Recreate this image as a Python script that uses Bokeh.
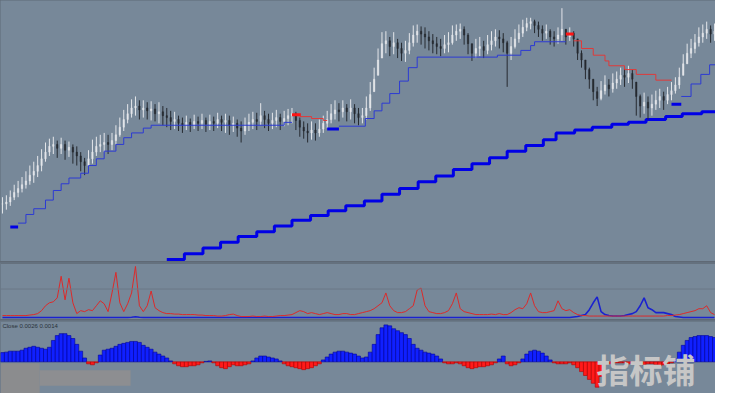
from bokeh.plotting import figure
from bokeh.layouts import column
from bokeh.models import Range1d, Span, Label, BoxAnnotation, ColumnDataSource
from bokeh.embed import file_html
from bokeh.resources import INLINE

BG = "#778899"
SEP = "#5f6a76"
W = 715

# ---------------- price bars (close / high / low) ----------------
close = [
    1.2060, 1.2062, 1.2067, 1.2072, 1.2076, 1.2080, 1.2084, 1.2090, 1.2094, 1.2100,
    1.2107, 1.2114, 1.2120, 1.2122, 1.2118, 1.2122, 1.2116, 1.2119, 1.2114, 1.2110,
    1.2104, 1.2100, 1.2107, 1.2114, 1.2120, 1.2122, 1.2124, 1.2122, 1.2126, 1.2132,
    1.2140, 1.2148, 1.2154, 1.2160, 1.2162, 1.2158, 1.2160, 1.2157, 1.2159, 1.2154,
    1.2156, 1.2152, 1.2150, 1.2146, 1.2148, 1.2144, 1.2142, 1.2145, 1.2142, 1.2146,
    1.2144, 1.2147, 1.2143, 1.2146, 1.2144, 1.2148, 1.2145, 1.2147, 1.2142, 1.2144,
    1.2139, 1.2136, 1.2142, 1.2145, 1.2148, 1.2146, 1.2152, 1.2148, 1.2144, 1.2147,
    1.2150, 1.2146, 1.2149, 1.2152, 1.2154, 1.2147, 1.2140, 1.2136, 1.2134, 1.2137,
    1.2134, 1.2138, 1.2144, 1.2148, 1.2154, 1.2158, 1.2156, 1.2160, 1.2156, 1.2160,
    1.2154, 1.2150, 1.2152, 1.2160, 1.2174, 1.2190, 1.2210, 1.2227, 1.2230, 1.2224,
    1.2228, 1.2222, 1.2217, 1.2220, 1.2228, 1.2236, 1.2240, 1.2237, 1.2234, 1.2230,
    1.2227, 1.2224, 1.2222, 1.2226, 1.2228, 1.2236, 1.2240, 1.2242, 1.2236, 1.2227,
    1.2217, 1.2222, 1.2224, 1.2220, 1.2226, 1.2230, 1.2234, 1.2232, 1.2228, 1.2217,
    1.2224, 1.2232, 1.2238, 1.2244, 1.2248, 1.2250, 1.2246, 1.2242, 1.2238, 1.2240,
    1.2234, 1.2232, 1.2236, 1.2242, 1.2234, 1.2238, 1.2232, 1.2217, 1.2210, 1.2200,
    1.2190, 1.2177, 1.2170, 1.2178, 1.2184, 1.2180, 1.2186, 1.2190, 1.2194, 1.2192,
    1.2196, 1.2190, 1.2172, 1.2162, 1.2166, 1.2160, 1.2164, 1.2168, 1.2172, 1.2168,
    1.2174, 1.2178, 1.2184, 1.2192, 1.2206, 1.2217, 1.2222, 1.2228, 1.2234, 1.2238,
    1.2242, 1.2237, 1.2240,
]
high = [
    1.2067, 1.2069, 1.2074, 1.2080, 1.2084, 1.2088, 1.2094, 1.2100, 1.2104, 1.2110,
    1.2117, 1.2124, 1.2128, 1.2130, 1.2126, 1.2129, 1.2126, 1.2125, 1.2122, 1.2120,
    1.2114, 1.2108, 1.2116, 1.2127, 1.2130, 1.2132, 1.2134, 1.2132, 1.2134, 1.2142,
    1.2150, 1.2158, 1.2164, 1.2169, 1.2172, 1.2168, 1.2168, 1.2166, 1.2167, 1.2164,
    1.2166, 1.2162, 1.2160, 1.2157, 1.2156, 1.2152, 1.2150, 1.2152, 1.2149, 1.2153,
    1.2151, 1.2154, 1.2150, 1.2153, 1.2151, 1.2155, 1.2152, 1.2154, 1.2152, 1.2151,
    1.2148, 1.2146, 1.2150, 1.2154, 1.2156, 1.2155, 1.2165, 1.2157, 1.2154, 1.2155,
    1.2158, 1.2154, 1.2157, 1.2159, 1.2160, 1.2156, 1.2150, 1.2146, 1.2144, 1.2146,
    1.2144, 1.2148, 1.2152, 1.2157, 1.2164, 1.2168, 1.2165, 1.2168, 1.2164, 1.2169,
    1.2164, 1.2160, 1.2160, 1.2172, 1.2187, 1.2202, 1.2222, 1.2239, 1.2240, 1.2234,
    1.2239, 1.2232, 1.2228, 1.2230, 1.2238, 1.2246, 1.2247, 1.2245, 1.2244, 1.2240,
    1.2237, 1.2234, 1.2232, 1.2236, 1.2239, 1.2246, 1.2247, 1.2248, 1.2245, 1.2238,
    1.2227, 1.2232, 1.2234, 1.2230, 1.2236, 1.2240, 1.2242, 1.2241, 1.2238, 1.2230,
    1.2234, 1.2242, 1.2247, 1.2252, 1.2254, 1.2254, 1.2252, 1.2250, 1.2246, 1.2247,
    1.2242, 1.2240, 1.2244, 1.2264, 1.2242, 1.2244, 1.2240, 1.2232, 1.2220, 1.2210,
    1.2202, 1.2190, 1.2182, 1.2188, 1.2194, 1.2190, 1.2196, 1.2198, 1.2202, 1.2202,
    1.2204, 1.2200, 1.2187, 1.2174, 1.2176, 1.2172, 1.2174, 1.2178, 1.2180, 1.2177,
    1.2182, 1.2187, 1.2192, 1.2202, 1.2216, 1.2227, 1.2232, 1.2237, 1.2244, 1.2247,
    1.2250, 1.2246, 1.2248,
]
low = [
    1.2050, 1.2054, 1.2058, 1.2064, 1.2067, 1.2072, 1.2076, 1.2080, 1.2082, 1.2088,
    1.2094, 1.2104, 1.2110, 1.2112, 1.2108, 1.2112, 1.2106, 1.2109, 1.2102, 1.2100,
    1.2094, 1.2090, 1.2096, 1.2102, 1.2110, 1.2114, 1.2114, 1.2112, 1.2116, 1.2122,
    1.2130, 1.2136, 1.2144, 1.2150, 1.2152, 1.2148, 1.2150, 1.2148, 1.2147, 1.2146,
    1.2144, 1.2142, 1.2140, 1.2137, 1.2138, 1.2136, 1.2134, 1.2137, 1.2135, 1.2138,
    1.2136, 1.2138, 1.2135, 1.2137, 1.2136, 1.2139, 1.2136, 1.2134, 1.2132, 1.2135,
    1.2130, 1.2124, 1.2132, 1.2136, 1.2138, 1.2137, 1.2142, 1.2139, 1.2136, 1.2138,
    1.2140, 1.2137, 1.2141, 1.2142, 1.2144, 1.2137, 1.2130, 1.2128, 1.2124, 1.2127,
    1.2126, 1.2130, 1.2134, 1.2139, 1.2144, 1.2148, 1.2146, 1.2150, 1.2146, 1.2148,
    1.2144, 1.2142, 1.2144, 1.2148, 1.2157, 1.2177, 1.2194, 1.2212, 1.2217, 1.2214,
    1.2216, 1.2212, 1.2209, 1.2208, 1.2216, 1.2224, 1.2228, 1.2226, 1.2222, 1.2220,
    1.2217, 1.2216, 1.2214, 1.2217, 1.2218, 1.2226, 1.2230, 1.2232, 1.2226, 1.2216,
    1.2209, 1.2212, 1.2214, 1.2212, 1.2216, 1.2220, 1.2224, 1.2222, 1.2218, 1.2182,
    1.2210, 1.2222, 1.2228, 1.2234, 1.2240, 1.2242, 1.2238, 1.2234, 1.2230, 1.2232,
    1.2226, 1.2224, 1.2227, 1.2230, 1.2226, 1.2230, 1.2224, 1.2210, 1.2202, 1.2190,
    1.2180, 1.2168, 1.2162, 1.2168, 1.2174, 1.2172, 1.2176, 1.2180, 1.2184, 1.2182,
    1.2186, 1.2180, 1.2152, 1.2150, 1.2154, 1.2148, 1.2152, 1.2158, 1.2160, 1.2158,
    1.2164, 1.2168, 1.2175, 1.2180, 1.2194, 1.2206, 1.2212, 1.2217, 1.2224, 1.2228,
    1.2232, 1.2228, 1.2230,
]

# ---------------- trailing-stop step lines (bar index, price level) ----------------
sup1_x = [4, 6, 8, 11, 13, 15, 17, 20, 22, 24, 26, 29, 31, 33, 36, 38, 72, 74]
sup1_y = [1.2040, 1.2049, 1.2055, 1.2064, 1.2074, 1.2081, 1.2087, 1.2092, 1.2100, 1.2107,
          1.2115, 1.2122, 1.2129, 1.2134, 1.2139, 1.2142, 1.2145, 1.2145]
res1_x = [76, 79, 82, 83]
res1_y = [1.2151, 1.2149, 1.2147, 1.2147]
sup2_x = [86, 92.75, 95, 97, 99, 101.5, 103.75, 106, 126.5, 132.5, 135, 136, 144]
sup2_y = [1.2141, 1.2149, 1.2157, 1.2165, 1.2175, 1.2188, 1.2202, 1.2213, 1.2215, 1.2220,
          1.2225, 1.2229, 1.2229]
res2_x = [146, 148, 151, 154, 155, 159, 162, 167, 171]
res2_y = [1.2230, 1.2222, 1.2215, 1.2209, 1.2204, 1.2200, 1.2195, 1.2189, 1.2189]
sup3_x = [173.5, 176, 178.5, 180.75, 182.5]
sup3_y = [1.2172, 1.2185, 1.2195, 1.2205, 1.2205]
long_x = [42, 46.5, 51.25, 55.75, 60.25, 65, 69.5, 74, 78.75, 83.25, 87.75, 92.5, 97, 101.5,
          106.25, 110.75, 115.25, 120, 124.5, 129, 133.75, 138.25, 141.5, 146.25, 150.75,
          155.75, 160, 164.5, 169.5, 173.75, 178.75, 182.5]
long_y = [1.2002, 1.2008, 1.2014, 1.2020, 1.2026, 1.2031, 1.2037, 1.2043, 1.2048, 1.2053,
          1.2058, 1.2063, 1.2070, 1.2076, 1.2083, 1.2089, 1.2096, 1.2102, 1.2108, 1.2115,
          1.2121, 1.2127, 1.2134, 1.2137, 1.2140, 1.2143, 1.2145, 1.2148, 1.2151, 1.2154,
          1.2156, 1.2156]
mark_blue_x0 = [2, 83, 171]
mark_blue_x1 = [4, 86, 173.5]
mark_blue_y = [1.2036, 1.2138, 1.2164]
mark_red_x0 = [74, 144]
mark_red_x1 = [76.25, 146]
mark_red_y = [1.2153, 1.2237]

# ---------------- indicator 1 (red / blue lines) ----------------
ind_red = [
    2, 2, 2, 2, 2, 2, 2, 2.5, 3, 4,
    7, 12, 15, 16, 20, 42, 18, 40, 15, 4,
    7, 6, 8, 7, 12, 17, 14, 6, 25, 46,
    15, 6, 14, 25, 52, 12, 6, 12, 27, 10,
    7, 5, 4, 4, 3.5, 3.5, 3, 3, 3, 3,
    2.5, 2.5, 2, 2, 2, 1.5, 1.5, 2, 3, 3.5,
    2, 1, 1, 1, 1.5, 1, 1, 1.5, 1, 1,
    1.5, 2, 2, 2.5, 3, 5, 7, 6, 4, 5,
    4, 3, 4, 5, 4, 3, 3, 4, 4, 3,
    3, 4, 5, 6, 7, 9, 12, 15, 25, 12,
    7, 5, 5, 6, 9, 12, 28, 30, 12, 6,
    5, 4, 4, 5, 7, 14, 25, 9, 6, 5,
    4, 3, 3, 3, 3, 3.5, 3, 4, 3, 3,
    5, 8, 10, 9, 14, 25, 12, 6, 5, 5,
    6, 7, 17, 9, 7, 8, 5, 3, 2, 2,
    1.5, 1.5, 1.5, 1.5, 1.5, 1.5, 1.5, 1.5, 1.5, 1.5,
    1.5, 1.5, 1.5, 1.5, 1.5, 1.5, 1.5, 1.5, 1.5, 1.5,
    2, 2, 2.5, 3, 4, 5, 6, 7, 9, 9,
    12, 5, 3,
]
ind_blue = [
    0, 0, 0, 0, 0, 0, 0, 0, 0, 0,
    0, 0, 0, 0, 0, 0, 0, 0, 0, 0,
    0, 0, 0, 0, 0, 0, 0, 0, 0, 0,
    0, 0, 0, 0.3, 0.8, 0.3, 0, 0, 0, 0,
    0, 0, 0, 0, 0, 0, 0, 0, 0, 0,
    0, 0, 0, 0, 0, 0, 0, 0, 0, 0,
    0, 0, 0, 0, 0, 0, 0, 0, 0, 0,
    0, 0, 0, 0, 0, 0, 0, 0, 0, 0,
    0, 0, 0, 0, 0, 0, 0, 0, 0, 0,
    0, 0, 0, 0, 0, 0, 0, 0, 0, 0,
    0, 0, 0, 0, 0, 0, 0, 0, 0, 0,
    0, 0, 0, 0, 0, 0, 0, 0, 0, 0,
    0, 0, 0, 0, 0, 0, 0, 0, 0, 0,
    0, 0, 0, 0, 0, 0, 0, 0, 0, 0,
    0, 0, 0, 0, 0, 0, 0.5, 1, 2, 3,
    8, 15, 21, 6, 3, 2, 1.5, 1.5, 1.5, 2,
    3, 4, 6, 12, 20, 10, 8, 5, 5, 5,
    4, 3, 1, 0.5, 0, 0, 0, 0, 0, 0,
    0, 0, 0,
]

# ---------------- indicator 2 (histogram) ----------------
hist = [
    9.5, 10, 11, 11, 11, 12, 14, 15, 16, 15,
    14, 13, 15, 22, 27, 29, 29, 27, 24, 18,
    11, 4, -2, -3, -1, 7, 12, 13, 14, 16,
    18, 19, 20, 21, 21, 20, 17, 15, 13, 10,
    8, 6, 4, 1, -2, -4, -5, -5, -4, -4,
    -3, -1, 0.5, 1, -1, -4, -6, -7, -5, -3,
    -4, -4, -3, -2, 1, 4, 6, 6, 5, 4,
    3, 1, -2, -4, -5, -6, -7, -8, -7, -6,
    -4, -2, 2, 5, 8, 10, 11, 11, 10, 9,
    8, 6, 4, 5, 10, 18, 28, 35, 38, 37,
    34, 32, 30, 28, 24, 18, 14, 12, 10, 9,
    8, 6, 3, -1, -2, -2, -1, -2, -4, -6,
    -7, -6, -5, -5, -4, -3, -1, 3, 6, -2,
    -4, -3, -1, 3, 8, 11, 12, 11, 9, 6,
    2, -1, -2, -2, -2, -1, -3, -6, -10, -14,
    -18, -22, -26, -15, -2, -2, -1, -1, -1, -1,
    -2, -1, -1, -2, -3, -2, -2, -3, -4, -3,
    -2, -1, 3, 10, 17, 22, 25, 26, 27, 27,
    27, 26, 25,
]

n = len(close)
idx = list(range(n))
opens = [close[0]] + close[:-1]
opens = [min(max(o, l), h) for o, l, h in zip(opens, low, high)]
ccol = ["#e4e6ea" if c >= o else "#262a30" for o, c in zip(opens, close)]
src = ColumnDataSource(dict(x=idx, o=opens, c=close, h=high, l=low, col=ccol,
                            top=[max(a, b) for a, b in zip(opens, close)],
                            bot=[min(a, b) for a, b in zip(opens, close)]))


def make_fig(h, yr, top_border):
    p = figure(width=W, height=h, x_range=Range1d(-0.5, 182.25), y_range=Range1d(*yr),
               x_axis_type=None, y_axis_type=None, output_backend="svg",
               toolbar_location=None, title=None, background_fill_color=BG,
               border_fill_color=SEP, min_border=0, outline_line_color=None)
    p.min_border_top = top_border
    p.grid.visible = False
    return p


# main pane
p1 = make_fig(261, (1.2000, 1.2272), 0)
p1.border_fill_color = BG
p1.step(long_x, long_y, mode="after", line_width=3, color="#0000e6")
p1.segment(x0="x", y0="l", x1="x", y1="h", color="col", line_width=1, source=src)
p1.vbar(x="x", width=0.35, top="top", bottom="bot", fill_color="col", line_color="col",
        line_width=0.5, source=src)
for xs, ys, colr in [(sup1_x, sup1_y, "#2c3ad4"), (sup2_x, sup2_y, "#2c3ad4"),
                     (sup3_x, sup3_y, "#2c3ad4"), (res1_x, res1_y, "#e03a3a"),
                     (res2_x, res2_y, "#e03a3a")]:
    p1.step(xs, ys, mode="after", line_width=1, color=colr)
p1.segment(x0=mark_blue_x0, y0=mark_blue_y, x1=mark_blue_x1, y1=mark_blue_y,
           line_width=3, color="#0000e6")
p1.segment(x0=mark_red_x0, y0=mark_red_y, x1=mark_red_x1, y1=mark_red_y,
           line_width=3, color="#ff1414")

# indicator 1 pane
p2 = make_fig(58, (-2, 56), 1)
p2.add_layout(Span(location=55.8, dimension="width", line_color=SEP, line_width=2))
p2.add_layout(Span(location=29, dimension="width", line_color="#6b7987", line_width=1))
p2.line(idx, ind_blue, color="#1a22d0", line_width=1.6)
p2.line(idx, ind_red, color="#dc2a2a", line_width=1)

# indicator 2 pane
p3 = make_fig(74, (-32.5, 42.5), 1)
p3.add_layout(Span(location=42.4, dimension="width", line_color=SEP, line_width=2))
hcol = ["#1020ff" if v >= 0 else "#ff1a1a" for v in hist]
hline = ["#00009c" if v >= 0 else "#b00000" for v in hist]
p3.vbar(x=idx, width=1.0, top=hist, bottom=0, fill_color=hcol, line_color=hline,
        line_width=0.6)
p3.add_layout(BoxAnnotation(left=-0.5, right=9.5, bottom=-32.5, top=-1.5,
                            fill_color="#8b8c8e", fill_alpha=1, line_color=None))
p3.add_layout(BoxAnnotation(left=9.5, right=32.75, bottom=-24.5, top=-8.5,
                            fill_color="#8d8e91", fill_alpha=1, line_color=None))
p3.add_layout(Label(x=0, y=37, text="Close 0.0026 0.0014", text_font_size="6px",
                    text_color="#2a323a", text_baseline="middle"))
p3.add_layout(Label(x=164.5, y=-7, text="指标铺", text_font_size="33px",
                    text_font="Noto Sans CJK SC", text_font_style="bold",
                    text_color="#c6c6c6", text_align="center", text_baseline="middle"))

layout = column(p1, p2, p3, spacing=0, styles={"background-color": SEP})
open("out.html", "w").write(file_html(layout, INLINE))
